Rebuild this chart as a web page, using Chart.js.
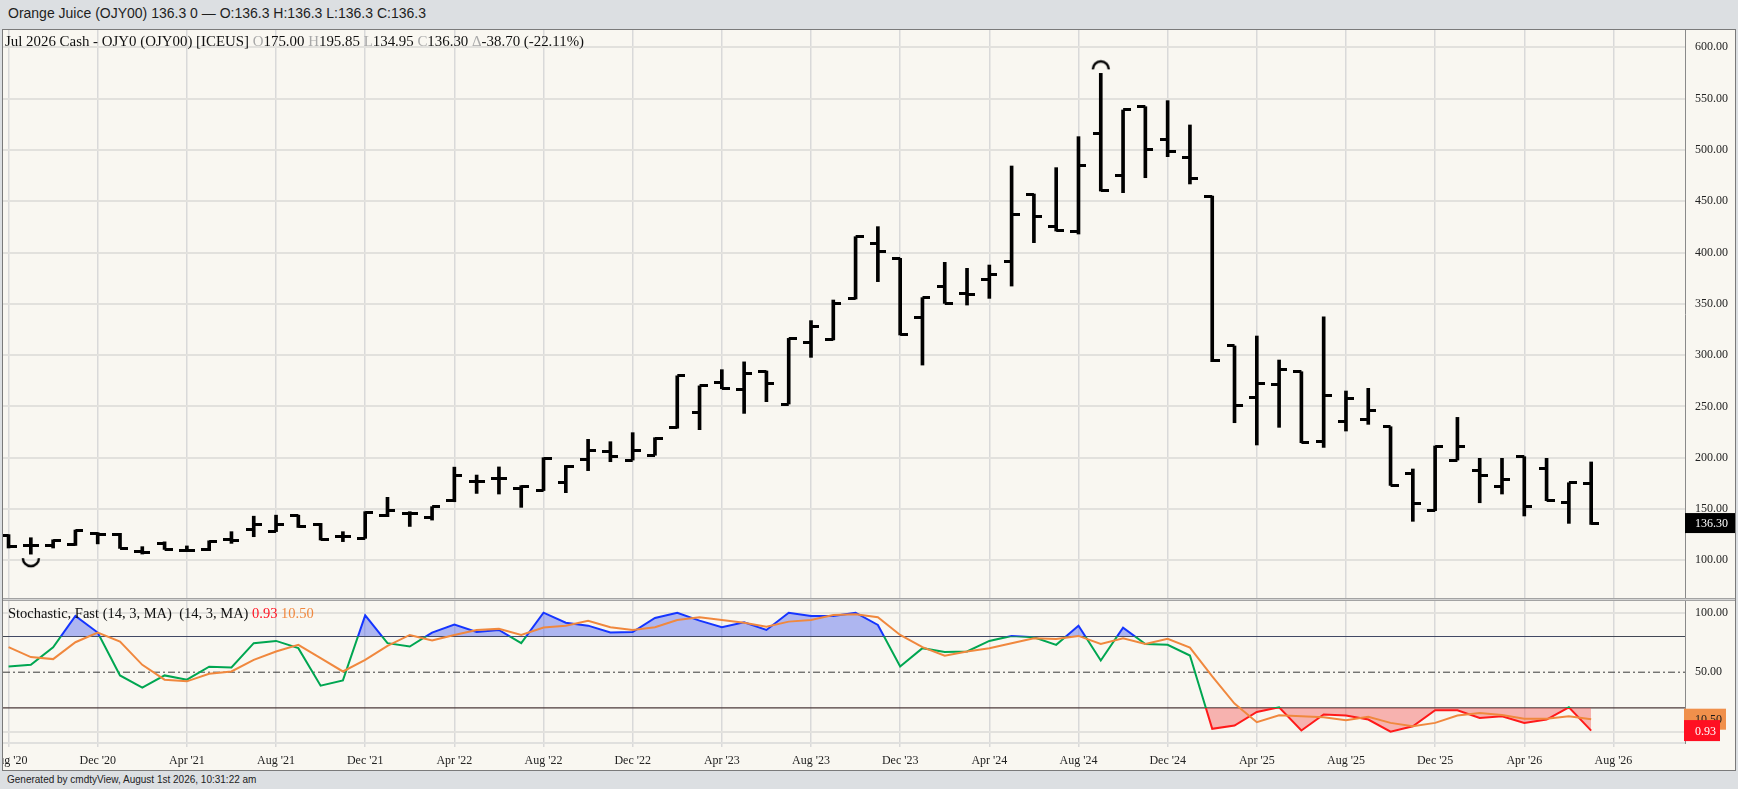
<!DOCTYPE html>
<html>
<head>
<meta charset="utf-8">
<title>Orange Juice (OJY00)</title>
<script src="https://cdn.jsdelivr.net/npm/chart.js@4.4.1/dist/chart.umd.min.js"></script>
<style>
  html, body { margin: 0; padding: 0; }
  body { width: 1738px; height: 789px; background: #dcdfe2; position: relative; overflow: hidden; }
  #topbar { position: absolute; left: 8px; top: 0; height: 27px; font: 14px "Liberation Sans", Arial, sans-serif; line-height: 26px; color: #1e1e1e; white-space: pre; }
  #frame { position: absolute; left: 2px; top: 29px; width: 1734px; height: 742px; box-sizing: border-box; border: 1px solid #7a7a7a; background: #f9f7f1; }
  canvas { position: absolute; left: 3px; }
  #price { top: 30px; }
  #stoch { top: 601px; }
  #divider { position: absolute; left: 3px; top: 598px; width: 1732px; height: 1px; border-top: 1px solid #a3a3a3; border-bottom: 1px solid #a3a3a3; background: #d4d4d4; }
  .label { position: absolute; font: 14.5px "Liberation Serif", "Times New Roman", serif; color: #111; white-space: pre; line-height: 17px; }
  #priceTitle { font-size: 14.9px; }
  .dim { color: #a8a8a8; }
  #footer { position: absolute; left: 7px; top: 772px; font: 10px "Liberation Sans", Arial, sans-serif; color: #222; line-height: 15px; }
</style>
</head>
<body>
<div id="topbar">Orange Juice (OJY00) 136.3 0 — O:136.3 H:136.3 L:136.3 C:136.3</div>
<div id="frame"></div>
<canvas id="price" width="1732" height="568"></canvas>
<div id="divider"></div>
<canvas id="stoch" width="1732" height="169"></canvas>
<div class="label" id="priceTitle" style="left:5px;top:33px;"></div>
<div class="label" id="stochTitle" style="left:8px;top:605px;"></div>
<div id="footer">Generated by cmdtyView, August 1st 2026, 10:31:22 am</div>

<script>
// monthly bars, Aug 2020 .. Jul 2026
const months = [
  'Aug 20', 'Sep 20', 'Oct 20', 'Nov 20', 'Dec 20',
  'Jan 21', 'Feb 21', 'Mar 21', 'Apr 21', 'May 21', 'Jun 21', 'Jul 21', 'Aug 21', 'Sep 21', 'Oct 21', 'Nov 21', 'Dec 21',
  'Jan 22', 'Feb 22', 'Mar 22', 'Apr 22', 'May 22', 'Jun 22', 'Jul 22', 'Aug 22', 'Sep 22', 'Oct 22', 'Nov 22', 'Dec 22',
  'Jan 23', 'Feb 23', 'Mar 23', 'Apr 23', 'May 23', 'Jun 23', 'Jul 23', 'Aug 23', 'Sep 23', 'Oct 23', 'Nov 23', 'Dec 23',
  'Jan 24', 'Feb 24', 'Mar 24', 'Apr 24', 'May 24', 'Jun 24', 'Jul 24', 'Aug 24', 'Sep 24', 'Oct 24', 'Nov 24', 'Dec 24',
  'Jan 25', 'Feb 25', 'Mar 25', 'Apr 25', 'May 25', 'Jun 25', 'Jul 25', 'Aug 25', 'Sep 25', 'Oct 25', 'Nov 25', 'Dec 25',
  'Jan 26', 'Feb 26', 'Mar 26', 'Apr 26', 'May 26', 'Jun 26', 'Jul 26'
];

const opens = [
  124, 114, 114, 115, 126,
  125.5, 108.4, 115.9, 110, 110.7, 119.8, 130, 128.5, 143.8, 135.3, 123, 121.4,
  144, 146, 141.5, 158, 176.6, 180, 170, 168.5, 175.6, 198.4, 205.9, 197.7,
  202.4, 229.2, 243.9, 273.1, 266, 284, 252.3, 312.1, 315.4, 354.7, 408.9, 394.3,
  336.8, 367.3, 360.2, 373.2, 391, 457, 425.8, 420.3, 516.1, 474.8, 542.1, 510.3,
  492.4, 455, 308.9, 258.8, 270.9, 283.8, 215.6, 235.7, 237.4, 230.2, 184.2, 148.4,
  197.7, 187.3, 172.4, 201, 189.6, 156.1, 175
];
const highs = [
  125, 122, 120, 129.5, 127,
  126.3, 113.3, 118, 114, 119, 127.9, 143, 144, 144, 136, 127.9, 147.4,
  161.4, 147.4, 152.3, 190.8, 183.1, 191, 172.8, 200, 192.5, 217.9, 215.6, 224.4,
  219.5, 279.8, 270, 285.8, 293.4, 284.5, 316.3, 333.6, 353.7, 415.4, 425.2, 394.3,
  356, 390.4, 384.6, 387.8, 484.3, 457, 482.7, 512.9, 574.6, 538.9, 542.1, 548,
  524.3, 455, 308.9, 318.6, 295.2, 283.8, 337.4, 265, 267.6, 230.2, 189, 211.4,
  239.3, 199.4, 199.4, 201, 199.4, 175.6, 195.85
];
const lows = [
  112, 106, 112, 114.5, 116,
  111.6, 106.1, 110.6, 108.4, 109.4, 116.5, 123, 128, 132, 119.8, 118.2, 121.4,
  142.5, 133, 139.2, 157.1, 165.2, 164.6, 151.6, 168, 165.9, 187.4, 196.1, 197.7,
  202.4, 228.8, 227.3, 267.2, 243.2, 254.6, 252.3, 297.8, 314.8, 354.7, 371.6, 319.6,
  290.3, 350.4, 348.8, 355.3, 367.3, 409.6, 420.9, 418, 459.9, 458.3, 472.9, 493.4,
  466.8, 293.6, 234.1, 212.4, 229.6, 214.6, 210.1, 226, 232.5, 173, 138, 148.4,
  197.7, 156.1, 164.6, 143.2, 158.1, 136, 134.95
];
const closes = [
  113, 114.5, 119, 129, 125,
  111.6, 108, 110.6, 109.5, 118.5, 119, 135, 135.3, 132.8, 119.8, 123, 146.4,
  149, 145.5, 152.3, 183, 176.8, 180, 172.4, 199, 191.8, 207.5, 201, 206.7,
  219, 279.8, 270, 267.5, 282.2, 272, 316.3, 327.7, 350.5, 415.4, 400.8, 319.6,
  356, 350.4, 359.5, 378.1, 437.2, 434.9, 421.9, 484.9, 460.3, 538.9, 500.6, 498.3,
  472.3, 295.2, 251.3, 272.5, 286.1, 214.6, 260.4, 257.8, 245.8, 173, 155.2, 211.4,
  211.4, 183.1, 178.9, 152.3, 158.7, 175.6, 136.3
];

// swing markers (bar index)
const swingHighs = [49];
const swingLows = [1];

// Stochastic, Fast (14, 3, MA)
const stochK = [
  54.8, 56.2, 71, 97.2, 83.3,
  47.3, 37, 47.3, 43.7, 54.6, 54, 74.4, 76.3, 70.2, 38.7, 43.1, 97.8,
  74.4, 71.6, 83.3, 90, 83.8, 85.5, 74.4, 100, 91.6, 89.1, 83.3, 83.8,
  95.6, 100, 93.3, 87.8, 92, 85.5, 100, 97.2, 97.2, 100, 89.7, 54.8,
  70.2, 66.9, 67.4, 76.3, 80.5, 79.4, 73, 89.1, 59.8, 87.5, 73.6, 73,
  64, 2.4, 5.2, 16.6, 20.5, 1, 14.4, 13.6, 10.2, 0, 4.6, 18,
  18, 11.6, 13, 7.4, 10.2, 20.5, 0.93
];
const stochD = [
  71, 62.7, 61, 75.2, 83.3,
  75.7, 56.2, 43.7, 42.3, 48.7, 50.6, 60.4, 67.4, 73, 61.8, 50.6, 60.4,
  72.1, 81.3, 76.6, 81.3, 85.5, 86.4, 81.3, 87.5, 89.1, 93.3, 87.8, 85.5,
  87.8, 93.9, 96.2, 93.9, 91.6, 88.3, 92.5, 93.9, 98.1, 98.6, 96.2, 81.3,
  71, 63.8, 67.4, 70.2, 74.4, 78.6, 78, 80.5, 73.8, 78.6, 73.8, 78,
  70.7, 46.4, 23.6, 8, 13.8, 13, 12.1, 9.6, 12.5, 7.4, 4.6, 7.4,
  13.6, 15.8, 14.1, 10.8, 10.8, 13, 10.5
];
const stochLevels = [80, 50, 20];

const tickIndex = [0, 4, 8, 12, 16, 20, 24, 28, 32, 36, 40, 44, 48, 52, 56, 60, 64, 68, 72];
const tickLabels = ["Aug '20", "Dec '20", "Apr '21", "Aug '21", "Dec '21", "Apr '22", "Aug '22", "Dec '22", "Apr '23",
  "Aug '23", "Dec '23", "Apr '24", "Aug '24", "Dec '24", "Apr '25", "Aug '25", "Dec '25", "Apr '26", "Aug '26"];
const priceTicks = [100, 150, 200, 250, 300, 350, 400, 450, 500, 550, 600];
const stochTicks = [0, 50, 100];

const X_MIN = -0.249, X_MAX = 75.21;
const AXIS_W = 50;
const SERIF = '"Liberation Serif", "Times New Roman", serif';

Chart.defaults.font.family = SERIF;

// header texts
const last = closes.length - 1;
const chg = closes[last] - opens[last];
document.getElementById('priceTitle').innerHTML =
  'Jul 2026 Cash - OJY0 (OJY00) [ICEUS] ' +
  '<span class="dim">O</span>' + opens[last].toFixed(2) + ' ' +
  '<span class="dim">H</span>' + highs[last].toFixed(2) + ' ' +
  '<span class="dim">L</span>' + lows[last].toFixed(2) + ' ' +
  '<span class="dim">C</span>' + closes[last].toFixed(2) + ' ' +
  '<span class="dim">\u0394</span>' + chg.toFixed(2) + ' (' + (chg / opens[last] * 100).toFixed(2) + '%)';
document.getElementById('stochTitle').innerHTML =
  'Stochastic, Fast (14, 3, MA)  (14, 3, MA) ' +
  '<span style="color:#ff1424">' + stochK[last].toFixed(2) + '</span> ' +
  '<span style="color:#f0883e">' + stochD[last].toFixed(2) + '</span>';

// small images for OHLC ticks and swing arcs
function tickImg(side) {
  const c = document.createElement('canvas');
  c.width = 16; c.height = 3;
  const g = c.getContext('2d');
  g.fillStyle = '#000';
  g.fillRect(side === 'left' ? 0 : 8, 0, 8, 3);
  return c;
}
function arcImg(up) {
  const c = document.createElement('canvas');
  c.width = 22; c.height = 30;
  const g = c.getContext('2d');
  g.strokeStyle = '#000';
  g.lineWidth = 2.4;
  g.beginPath();
  if (up) g.arc(11, 11, 8, Math.PI, 2 * Math.PI);
  else g.arc(11, 19, 8, 0, Math.PI);
  g.stroke();
  return c;
}

const xScale = (showLabels) => ({
  type: 'linear',
  min: X_MIN,
  max: X_MAX,
  offset: false,
  afterBuildTicks: s => { s.ticks = tickIndex.map(v => ({ value: v })); },
  afterFit: s => { s.height = showLabels ? 27 : 0; s.paddingLeft = 0; s.paddingRight = 0; },
  ticks: {
    display: showLabels,
    autoSkip: false,
    maxRotation: 0,
    padding: 7,
    color: '#222',
    font: { size: 12 },
    callback: (v, i) => tickLabels[i]
  },
  grid: { color: '#d9d9d9', lineWidth: 1.5, offset: false, drawTicks: showLabels, tickLength: 4 },
  border: { display: showLabels, color: '#e0e0de', width: 2 }
});

const priceBox = {
  id: 'priceBox',
  afterDraw(chart) {
    const ctx = chart.ctx, a = chart.chartArea;
    const y = chart.scales.y.getPixelForValue(closes[last]);
    ctx.save();
    ctx.fillStyle = '#000';
    ctx.fillRect(a.right, y - 10, chart.width - a.right, 20);
    ctx.fillStyle = '#fff';
    ctx.font = '12px ' + SERIF;
    ctx.textBaseline = 'middle';
    ctx.fillText(closes[last].toFixed(2), a.right + 10, y + 1);
    ctx.restore();
  }
};

new Chart(document.getElementById('price'), {
  type: 'bar',
  data: {
    datasets: [
      { type: 'scatter', label: 'Open', data: opens.map((v, i) => ({ x: i, y: v })),
        pointStyle: tickImg('left'), pointRadius: 8, order: 1 },
      { type: 'scatter', label: 'Close', data: closes.map((v, i) => ({ x: i, y: v })),
        pointStyle: tickImg('right'), pointRadius: 8, order: 1 },
      { type: 'scatter', label: 'Swing high', data: swingHighs.map(i => ({ x: i, y: highs[i] })),
        pointStyle: arcImg(true), pointRadius: 10, order: 1 },
      { type: 'scatter', label: 'Swing low', data: swingLows.map(i => ({ x: i, y: lows[i] })),
        pointStyle: arcImg(false), pointRadius: 10, order: 1 },
      { type: 'bar', label: 'Range', data: lows.map((v, i) => ({ x: i, y: [v, highs[i]] })),
        backgroundColor: '#000', borderWidth: 0, barThickness: 3, order: 2 }
    ]
  },
  options: {
    responsive: false,
    animation: false,
    events: [],
    layout: { padding: 0, autoPadding: false },
    plugins: { legend: { display: false }, tooltip: { enabled: false } },
    scales: {
      x: xScale(false),
      y: {
        type: 'linear',
        position: 'right',
        min: 63.26,
        max: 616.86,
        afterBuildTicks: s => { s.ticks = priceTicks.map(v => ({ value: v })); },
        afterFit: s => { s.width = AXIS_W; s.paddingTop = 0; s.paddingBottom = 0; },
        ticks: { padding: 10, color: '#222', font: { size: 12 }, callback: v => v.toFixed(2) },
        grid: { color: '#e2e1dd', lineWidth: 2, drawTicks: false },
        border: { color: '#8a8a8a', width: 1 }
      }
    }
  },
  plugins: [priceBox]
});

// clip a dataset to a value band so the %K line changes colour at 80 / 20
const bandClip = {
  id: 'bandClip',
  beforeDatasetDraw(chart, args) {
    const band = chart.data.datasets[args.index].band;
    if (!band) return;
    const ys = chart.scales.y, a = chart.chartArea;
    const top = ys.getPixelForValue(band[1]);
    const bottom = ys.getPixelForValue(band[0]);
    chart.ctx.save();
    chart.ctx.beginPath();
    chart.ctx.rect(a.left, top, a.width, bottom - top);
    chart.ctx.clip();
  },
  afterDatasetDraw(chart, args) {
    if (chart.data.datasets[args.index].band) chart.ctx.restore();
  }
};

const stochBoxes = {
  id: 'stochBoxes',
  afterDraw(chart) {
    const ctx = chart.ctx, a = chart.chartArea, ys = chart.scales.y;
    const boxes = [
      { v: stochD[last], bg: '#f0904b', fg: '#1a1a1a', w: 42 },
      { v: stochK[last], bg: '#ff0f22', fg: '#ffffff', w: 36 }
    ];
    ctx.save();
    ctx.font = '12px ' + SERIF;
    ctx.textBaseline = 'middle';
    boxes.forEach(b => {
      const y = ys.getPixelForValue(b.v);
      ctx.fillStyle = b.bg;
      ctx.fillRect(a.right - 1, y - 10.5, b.w, 21);
      ctx.fillStyle = b.fg;
      ctx.fillText(b.v.toFixed(2), a.right + 10, y + 1);
    });
    ctx.restore();
  }
};

const kData = stochK.map((v, i) => ({ x: i, y: v }));
const levelLine = v => [{ x: X_MIN, y: v }, { x: X_MAX, y: v }];

new Chart(document.getElementById('stoch'), {
  type: 'line',
  data: {
    datasets: [
      { label: '%D', data: stochD.map((v, i) => ({ x: i, y: v })), borderColor: '#f0883e', borderWidth: 2, order: 0 },
      { label: '%K', data: kData, borderColor: '#00a651', borderWidth: 2, band: [20, 80], order: 1 },
      { label: '%K over', data: kData, borderColor: '#1535ff', borderWidth: 2, band: [80, 130], order: 2,
        fill: { target: { value: stochLevels[0] }, above: 'rgba(72, 92, 238, 0.42)', below: 'rgba(0,0,0,0)' } },
      { label: '%K under', data: kData, borderColor: '#ff1a1a', borderWidth: 2, band: [-20, 20], order: 3,
        fill: { target: { value: stochLevels[2] }, above: 'rgba(0,0,0,0)', below: 'rgba(246, 84, 84, 0.42)' } },
      { label: 'Overbought', data: levelLine(stochLevels[0]), borderColor: '#434855', borderWidth: 1.2, order: 5 },
      { label: 'Middle', data: levelLine(stochLevels[1]), borderColor: '#3a3a3a', borderWidth: 1, borderDash: [7, 3, 2, 3], order: 5 },
      { label: 'Oversold', data: levelLine(stochLevels[2]), borderColor: '#4b3a3a', borderWidth: 1.2, order: 5 }
    ]
  },
  options: {
    responsive: false,
    animation: false,
    events: [],
    layout: { padding: 0, autoPadding: false },
    elements: { point: { radius: 0 }, line: { tension: 0 } },
    plugins: { legend: { display: false }, tooltip: { enabled: false } },
    scales: {
      x: xScale(true),
      y: {
        type: 'linear',
        position: 'right',
        min: -9.5,
        max: 109.83,
        afterBuildTicks: s => { s.ticks = stochTicks.map(v => ({ value: v })); },
        afterFit: s => { s.width = AXIS_W; s.paddingTop = 0; s.paddingBottom = 0; },
        ticks: { padding: 10, color: '#222', font: { size: 12 }, callback: v => (v === 0 ? '' : v.toFixed(2)) },
        grid: { color: c => (c.tick && c.tick.value === 50 ? 'rgba(0,0,0,0)' : '#e2e1dd'), lineWidth: 2, drawTicks: false },
        border: { color: '#8a8a8a', width: 1 }
      }
    }
  },
  plugins: [bandClip, stochBoxes]
});
</script>
</body>
</html>
